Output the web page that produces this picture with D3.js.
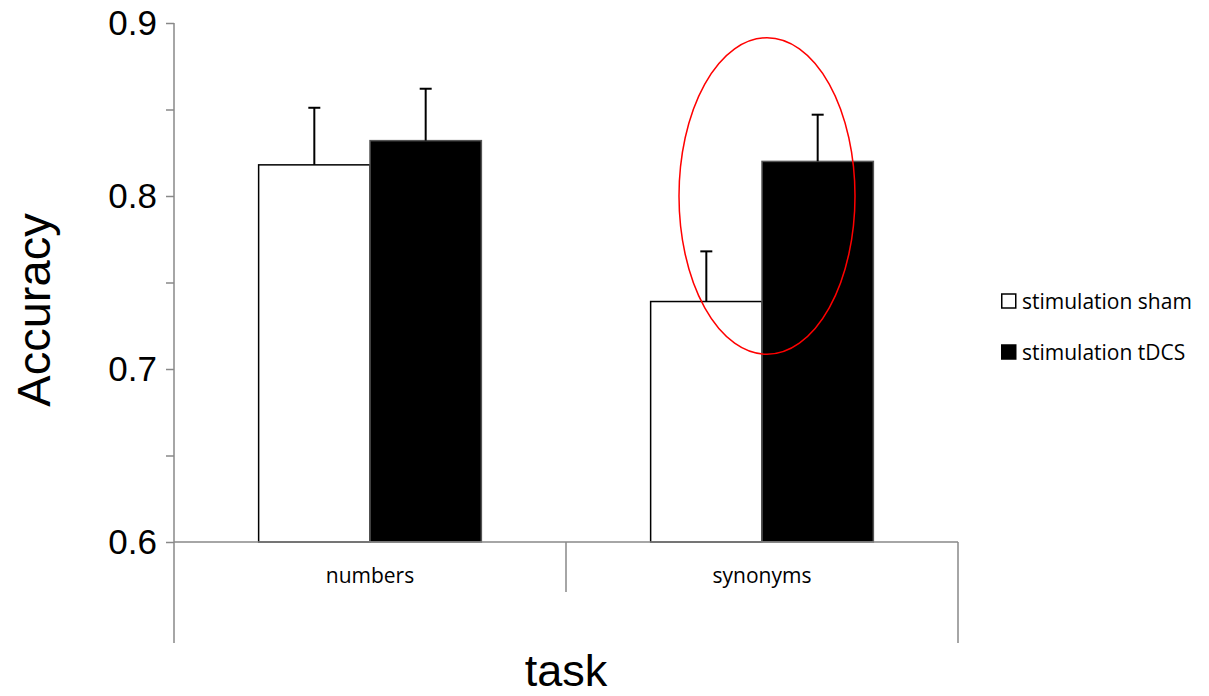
<!DOCTYPE html>
<html>
<head>
<meta charset="utf-8">
<script src="https://cdn.jsdelivr.net/npm/d3@7"></script>
<style>
  body { margin: 0; background: #fff; }
</style>
</head>
<body>
<div id="chart"></div>
<script>
// data
var tasks = ["numbers", "synonyms"];
var conditions = ["stimulation sham", "stimulation tDCS"];
var sham = [0.818, 0.739];
var tdcs = [0.832, 0.820];
var shamErr = [0.033, 0.029];
var tdcsErr = [0.030, 0.027];
var yTicks = [0.6, 0.65, 0.7, 0.75, 0.8, 0.85, 0.9];
var yLabels = [0.6, 0.7, 0.8, 0.9];

var width = 1209, height = 696;
var plotLeft = 174, plotRight = 958, plotTop = 23, plotBottom = 542;

var rows = [];
tasks.forEach(function(t, i) {
    rows.push({task: t, cond: conditions[0], value: sham[i], err: shamErr[i]});
    rows.push({task: t, cond: conditions[1], value: tdcs[i], err: tdcsErr[i]});
});

var svg = d3.select("#chart")
            .append("svg")
            .attr("width", width)
            .attr("height", height);

var x0 = d3.scaleBand().domain(tasks).range([plotLeft, plotRight]).padding(0);
var x1 = d3.scaleBand().domain(conditions).range([0, x0.bandwidth()])
            .paddingInner(0).paddingOuter(0.76);
var y = d3.scaleLinear().domain([0.6, 0.9]).range([plotBottom, plotTop]);
var fill = d3.scaleOrdinal().domain(conditions).range(["#ffffff", "#000000"]);

// bars
svg.selectAll(".bar")
    .data(rows)
    .enter()
    .append("rect")
    .attr("class", "bar")
    .attr("x", function(d) { return x0(d.task) + x1(d.cond); })
    .attr("y", function(d) { return y(d.value); })
    .attr("width", x1.bandwidth())
    .attr("height", function(d) { return y(0.6) - y(d.value); })
    .attr("fill", function(d) { return fill(d.cond); })
    .attr("stroke", function(d) { return d.cond == conditions[0] ? "#000" : "#555"; })
    .attr("stroke-width", 1.5);

// error bars (upper only)
var err = svg.selectAll(".err")
    .data(rows)
    .enter()
    .append("g")
    .attr("class", "err")
    .attr("stroke", "#000")
    .attr("stroke-width", 2);
err.append("line")
    .attr("x1", function(d) { return x0(d.task) + x1(d.cond) + x1.bandwidth() / 2; })
    .attr("x2", function(d) { return x0(d.task) + x1(d.cond) + x1.bandwidth() / 2; })
    .attr("y1", function(d) { return y(d.value); })
    .attr("y2", function(d) { return y(d.value + d.err); });
err.append("line")
    .attr("x1", function(d) { return x0(d.task) + x1(d.cond) + x1.bandwidth() / 2 - 6; })
    .attr("x2", function(d) { return x0(d.task) + x1(d.cond) + x1.bandwidth() / 2 + 6; })
    .attr("y1", function(d) { return y(d.value + d.err); })
    .attr("y2", function(d) { return y(d.value + d.err); });

// y axis
var yAxis = svg.append("g")
    .attr("transform", "translate(" + plotLeft + ",0)")
    .call(d3.axisLeft(y).tickValues(yTicks).tickSize(8).tickFormat(""));
yAxis.select(".domain").remove();
yAxis.selectAll(".tick line").attr("stroke", "#888").attr("stroke-width", 1.5);
svg.append("line")
    .attr("x1", plotLeft).attr("x2", plotLeft)
    .attr("y1", plotTop).attr("y2", 643)
    .attr("stroke", "#888").attr("stroke-width", 1.5);

svg.selectAll(".ylab")
    .data(yLabels)
    .enter()
    .append("text")
    .attr("class", "ylab")
    .attr("x", 157)
    .attr("y", function(d) { return y(d); })
    .attr("dy", "0.34em")
    .attr("text-anchor", "end")
    .attr("font-family", "Liberation Sans, Arial, sans-serif")
    .attr("font-size", "35px")
    .attr("fill", "#000")
    .text(function(d) { return d3.format(".1f")(d); });

// x axis with category dividers
svg.append("line")
    .attr("x1", plotLeft).attr("x2", plotRight)
    .attr("y1", plotBottom).attr("y2", plotBottom)
    .attr("stroke", "#888").attr("stroke-width", 1.5);
svg.append("line")
    .attr("x1", plotRight).attr("x2", plotRight)
    .attr("y1", plotBottom).attr("y2", 643)
    .attr("stroke", "#888").attr("stroke-width", 1.5);
svg.selectAll(".divider")
    .data(tasks.slice(1))
    .enter()
    .append("line")
    .attr("x1", function(d) { return x0(d); })
    .attr("x2", function(d) { return x0(d); })
    .attr("y1", plotBottom).attr("y2", 592)
    .attr("stroke", "#888").attr("stroke-width", 1.5);

svg.selectAll(".xlab")
    .data(tasks)
    .enter()
    .append("text")
    .attr("class", "xlab")
    .attr("x", function(d) { return x0(d) + x0.bandwidth() / 2; })
    .attr("y", 583)
    .attr("text-anchor", "middle")
    .attr("font-family", "Open Sans, sans-serif")
    .attr("font-size", "21px")
    .attr("fill", "#000")
    .text(function(d) { return d; });

// axis titles
svg.append("text")
    .attr("transform", "translate(50,310) rotate(-90)")
    .attr("text-anchor", "middle")
    .attr("font-family", "Liberation Sans, Arial, sans-serif")
    .attr("font-size", "47px")
    .attr("fill", "#000")
    .text("Accuracy");
svg.append("text")
    .attr("x", (plotLeft + plotRight) / 2)
    .attr("y", 686)
    .attr("text-anchor", "middle")
    .attr("font-family", "Liberation Sans, Arial, sans-serif")
    .attr("font-size", "45px")
    .attr("fill", "#000")
    .text("task");

// red highlight around the synonyms pair
svg.append("ellipse")
    .attr("cx", x0("synonyms") + x0.bandwidth() / 2 + 5)
    .attr("cy", y(0.8))
    .attr("rx", 88)
    .attr("ry", (y(0.708) - y(0.891)) / 2)
    .attr("fill", "none")
    .attr("stroke", "#ff0000")
    .attr("stroke-width", 1.5);

// legend
var legend = svg.selectAll(".legend")
    .data(conditions)
    .enter()
    .append("g")
    .attr("class", "legend")
    .attr("transform", function(d, i) { return "translate(1001," + (301 + i * 51) + ")"; });
legend.append("rect")
    .attr("x", 0.75).attr("y", -7)
    .attr("width", 14).attr("height", 14)
    .attr("fill", function(d) { return fill(d); })
    .attr("stroke", "#000")
    .attr("stroke-width", 1.5);
legend.append("text")
    .attr("x", 21)
    .attr("y", 8)
    .attr("font-family", "Open Sans, sans-serif")
    .attr("font-size", "21px")
    .attr("fill", "#000")
    .text(function(d) { return d; });
</script>
</body>
</html>
